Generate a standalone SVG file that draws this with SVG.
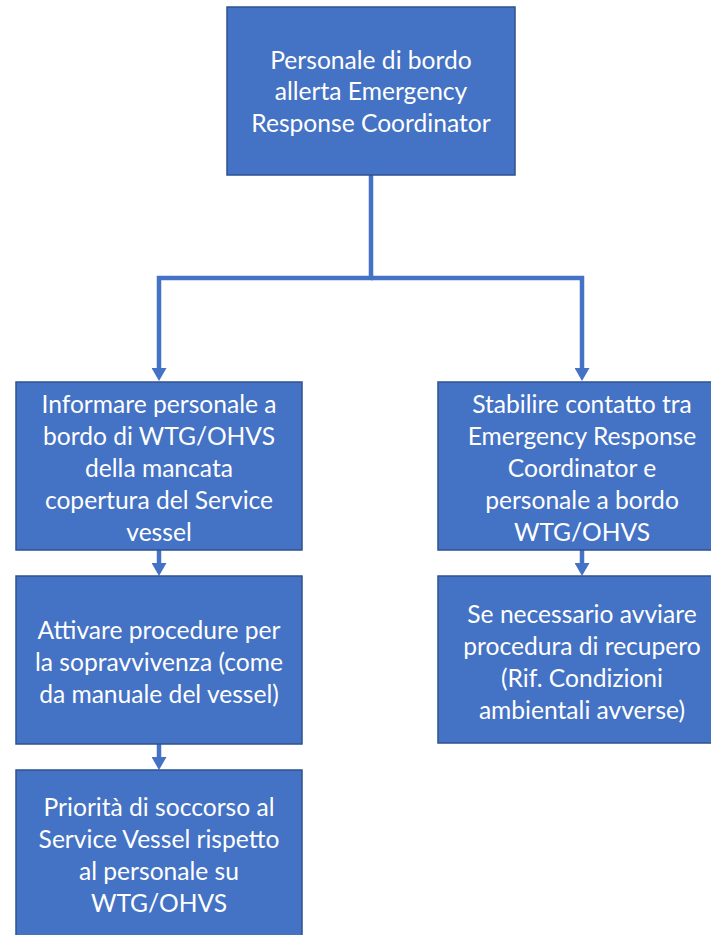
<svg xmlns="http://www.w3.org/2000/svg" width="711" height="935" viewBox="0 0 711 935">
<style>
.box{fill:#4472C4;stroke:#2F528F;stroke-width:1.5}
.t{font-family:Lato,"Liberation Sans",sans-serif;font-size:24.6px;fill:#fff;text-anchor:middle}
.c{fill:none;stroke:#4472C4;stroke-width:4.5}
</style>
<defs>
<marker id="ah" markerUnits="userSpaceOnUse" markerWidth="13" markerHeight="15" refX="4" refY="7.5" orient="auto" viewBox="0 0 13 15">
<path d="M0,0 L13,7.5 L0,15 Z" fill="#4472C4"/>
</marker>
</defs>
<g id="connectors">
<path class="c" d="M371,175 V278 H159 V372" marker-end="url(#ah)"/>
<path class="c" d="M371,278 H582 V372" marker-end="url(#ah)"/>
<path class="c" d="M159,550 V567" marker-end="url(#ah)"/>
<path class="c" d="M159,744 V761" marker-end="url(#ah)"/>
<path class="c" d="M582,550 V567" marker-end="url(#ah)"/>
</g>
<g id="n1"><rect class="box" x="227" y="7" width="288" height="168"/>
<text class="t"><tspan x="371" y="69">Personale di bordo</tspan><tspan x="371" y="100">allerta Emergency</tspan><tspan x="371" y="132">Response Coordinator</tspan></text></g>
<g id="n2"><rect class="box" x="16" y="382" width="286" height="168"/>
<text class="t"><tspan x="159" y="413">Informare personale a</tspan><tspan x="159" y="445">bordo di WTG/OHVS</tspan><tspan x="159" y="477">della mancata</tspan><tspan x="159" y="509">copertura del Service</tspan><tspan x="159" y="541">vessel</tspan></text></g>
<g id="n3"><rect class="box" x="16" y="576" width="286" height="168"/>
<text class="t"><tspan x="159" y="639">Attivare procedure per</tspan><tspan x="159" y="671">la sopravvivenza (come</tspan><tspan x="159" y="703">da manuale del vessel)</tspan></text></g>
<g id="n4"><rect class="box" x="16" y="770" width="286" height="170"/>
<text class="t"><tspan x="159" y="816">Priorità di soccorso al</tspan><tspan x="159" y="848">Service Vessel rispetto</tspan><tspan x="159" y="880">al personale su</tspan><tspan x="159" y="912">WTG/OHVS</tspan></text></g>
<g id="n5"><rect class="box" x="438" y="382" width="288" height="168"/>
<text class="t"><tspan x="582" y="413">Stabilire contatto tra</tspan><tspan x="582" y="445">Emergency Response</tspan><tspan x="582" y="477">Coordinator e</tspan><tspan x="582" y="509">personale a bordo</tspan><tspan x="582" y="541">WTG/OHVS</tspan></text></g>
<g id="n6"><rect class="box" x="438" y="576" width="288" height="167"/>
<text class="t"><tspan x="582" y="623">Se necessario avviare</tspan><tspan x="582" y="655">procedura di recupero</tspan><tspan x="582" y="687">(Rif. Condizioni</tspan><tspan x="582" y="719">ambientali avverse)</tspan></text></g>
</svg>
